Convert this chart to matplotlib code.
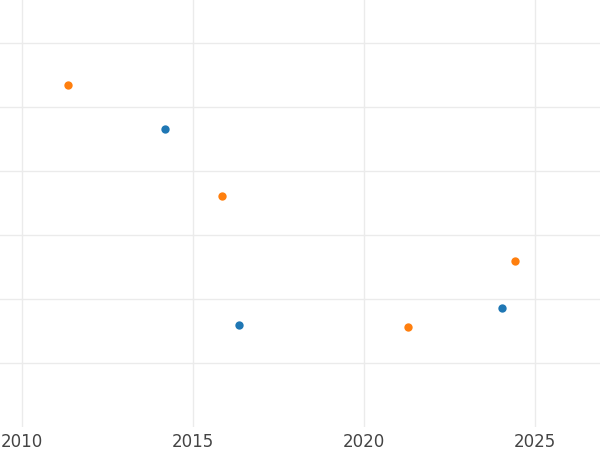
import matplotlib
matplotlib.use("Agg")
import matplotlib.pyplot as plt

blue_x = [2014.18, 2016.35, 2024.04]
blue_y = [4.66, 1.59, 1.86]
orange_x = [2011.35, 2015.85, 2021.29, 2024.42]
orange_y = [5.34, 3.61, 1.56, 2.59]
xticks = [2010, 2015, 2020, 2025]

fig = plt.figure(figsize=(6, 4.5), dpi=100)
ax = fig.add_axes([0, 23/450, 1, 427/450])
ax.scatter(blue_x, blue_y, color="#1f77b4", s=36, zorder=3, linewidths=0)
ax.scatter(orange_x, orange_y, color="#ff7f0e", s=36, zorder=3, linewidths=0)
ax.set_xlim(2010 - 22/34.2, 2010 + 578/34.2)
ax.set_ylim(0, 427/64)
ax.set_xticks(xticks)
ax.set_yticks([1, 2, 3, 4, 5, 6])
ax.set_yticklabels([])
ax.grid(True, color="#ebebeb", linewidth=1)
ax.set_axisbelow(True)
for s in ax.spines.values():
    s.set_visible(False)
ax.tick_params(axis="both", length=0, labelsize=12, labelcolor="#444444", pad=4)
fig.savefig("out.png", dpi=100)
